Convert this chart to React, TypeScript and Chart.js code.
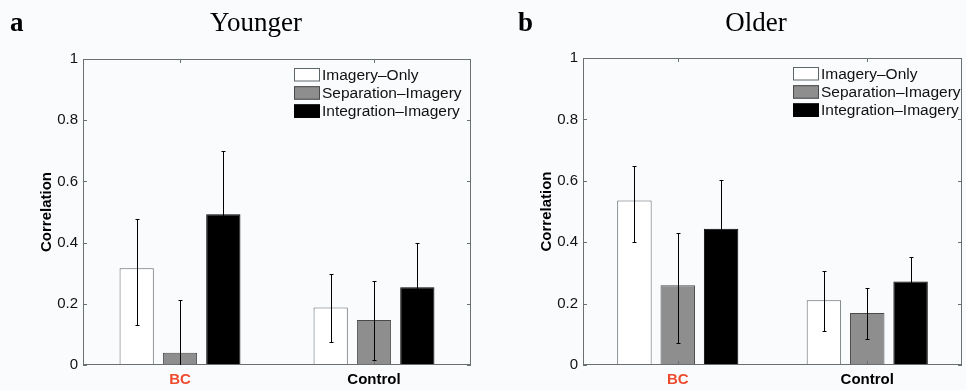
import React, { useEffect, useRef } from 'react';
import { Chart, registerables } from 'chart.js';

Chart.register(...registerables);

// ---- data ----
const groups = ['BC', 'Control'];
const seriesNames = ['Imagery–Only', 'Separation–Imagery', 'Integration–Imagery'];
const yTicks = [0, 0.2, 0.4, 0.6, 0.8, 1];
const yTickLabels = ['0', '0.2', '0.4', '0.6', '0.8', '1'];

// Younger (panel a)
const youngerImagery = [0.316, 0.188];
const youngerSeparation = [0.040, 0.147];
const youngerIntegration = [0.493, 0.254];
const youngerImageryUpper = [0.477, 0.298];
const youngerImageryLower = [0.130, 0.074];
const youngerSeparationUpper = [0.213, 0.273];
const youngerSeparationLower = [-0.133, 0.015];
const youngerIntegrationUpper = [0.698, 0.398];
const youngerIntegrationLower = [0.288, 0.110];

// Older (panel b)
const olderImagery = [0.536, 0.211];
const olderSeparation = [0.260, 0.169];
const olderIntegration = [0.444, 0.272];
const olderImageryUpper = [0.647, 0.307];
const olderImageryLower = [0.400, 0.112];
const olderSeparationUpper = [0.431, 0.250];
const olderSeparationLower = [0.071, 0.084];
const olderIntegrationUpper = [0.601, 0.352];
const olderIntegrationLower = [0.287, 0.192];

const fills = ['#ffffff', '#8e8e8e', '#000000'];
const borders = ['#5d6668', '#4a4a4a', '#000000'];
const axisColor = '#6a7072';
const errColor = '#000000';
const sans = '"Liberation Sans", Arial, Helvetica, sans-serif';
const serif = '"Liberation Serif", "Times New Roman", serif';

type PanelCfg = {
  letter: string;
  title: string;
  letterX: number;
  titleX: number;
  padLeft: number;
  padRight: number;
  padTop: number;
  catPct: number;
  barPct: number;
  legendFromRight: number;
  values: number[][];
  upper: number[][];
  lower: number[][];
};

const panels: PanelCfg[] = [
  {
    letter: 'a', title: 'Younger', letterX: 10, titleX: 256, padLeft: 0, padRight: 12, padTop: 59,
    catPct: 0.67, barPct: 0.79, legendFromRight: 177,
    values: [youngerImagery, youngerSeparation, youngerIntegration],
    upper: [youngerImageryUpper, youngerSeparationUpper, youngerIntegrationUpper],
    lower: [youngerImageryLower, youngerSeparationLower, youngerIntegrationLower],
  },
  {
    letter: 'b', title: 'Older', letterX: 35, titleX: 273, padLeft: 17, padRight: 4, padTop: 58,
    catPct: 0.686, barPct: 0.795, legendFromRight: 169,
    values: [olderImagery, olderSeparation, olderIntegration],
    upper: [olderImageryUpper, olderSeparationUpper, olderIntegrationUpper],
    lower: [olderImageryLower, olderSeparationLower, olderIntegrationLower],
  },
];

function Panel({ cfg }: { cfg: PanelCfg }) {
  const ref = useRef<HTMLCanvasElement>(null);
  useEffect(() => {
    const canvas = ref.current!;
    const decor = {
      id: 'decor',
      afterDatasetsDraw(chart: any) {
        const { ctx, chartArea: a, scales } = chart;
        const x = scales.x;
        const y = scales.y;
        ctx.save();
        // box
        ctx.strokeStyle = axisColor;
        ctx.lineWidth = 1;
        ctx.strokeRect(a.left + 0.5, a.top + 0.5, a.right - a.left - 1, a.bottom - a.top - 1);
        // inward ticks
        ctx.beginPath();
        yTicks.forEach((v) => {
          const py = Math.round(y.getPixelForValue(v)) + 0.5;
          ctx.moveTo(a.left, py); ctx.lineTo(a.left + 4, py);
          ctx.moveTo(a.right, py); ctx.lineTo(a.right - 4, py);
        });
        groups.forEach((_, i) => {
          const px = Math.round(x.getPixelForValue(i)) + 0.5;
          ctx.moveTo(px, a.top); ctx.lineTo(px, a.top + 4);
          ctx.moveTo(px, a.bottom); ctx.lineTo(px, a.bottom - 4);
        });
        ctx.stroke();
        // error bars
        ctx.beginPath();
        ctx.rect(a.left, a.top, a.right - a.left, a.bottom - a.top);
        ctx.clip();
        ctx.strokeStyle = errColor;
        ctx.beginPath();
        cfg.values.forEach((_, di) => {
          const meta = chart.getDatasetMeta(di);
          meta.data.forEach((bar: any, j: number) => {
            const bx = Math.round(bar.x) + 0.5;
            const yu = Math.round(y.getPixelForValue(cfg.upper[di][j])) + 0.5;
            const yl = Math.round(y.getPixelForValue(cfg.lower[di][j])) + 0.5;
            ctx.moveTo(bx, yu); ctx.lineTo(bx, yl);
            ctx.moveTo(bx - 2, yu); ctx.lineTo(bx + 2, yu);
            ctx.moveTo(bx - 2, yl); ctx.lineTo(bx + 2, yl);
          });
        });
        ctx.stroke();
        ctx.restore();
      },
      afterDraw(chart: any) {
        const { ctx, chartArea: a } = chart;
        ctx.save();
        // panel letter and title
        ctx.fillStyle = '#000';
        ctx.textBaseline = 'alphabetic';
        ctx.textAlign = 'left';
        ctx.font = `bold 27px ${serif}`;
        ctx.fillText(cfg.letter, cfg.letterX, 31);
        ctx.textAlign = 'center';
        ctx.font = `27px ${serif}`;
        ctx.fillText(cfg.title, cfg.titleX, 31);
        // legend
        const lx = a.right - cfg.legendFromRight;
        const ly = a.top + 9;
        ctx.font = `15.5px ${sans}`;
        ctx.textAlign = 'left';
        ctx.textBaseline = 'middle';
        chart.data.datasets.forEach((ds: any, i: number) => {
          const top = ly + i * 18.2;
          ctx.fillStyle = ds.backgroundColor;
          ctx.fillRect(lx, top, 26, 13.5);
          ctx.strokeStyle = ds.borderColor;
          ctx.lineWidth = 1;
          ctx.strokeRect(lx + 0.5, top + 0.5, 25, 12.5);
          ctx.fillStyle = '#111';
          ctx.fillText(ds.label, lx + 28, top + 7.5);
        });
        ctx.restore();
      },
    };

    const chart = new Chart(canvas, {
      type: 'bar',
      data: {
        labels: groups,
        datasets: seriesNames.map((name, i) => ({
          label: name,
          data: cfg.values[i],
          backgroundColor: fills[i],
          borderColor: borders[i],
          borderWidth: 1,
          categoryPercentage: cfg.catPct,
          barPercentage: cfg.barPct,
        })),
      },
      options: {
        responsive: false,
        animation: false,
        devicePixelRatio: 1,
        layout: { padding: { top: cfg.padTop, right: cfg.padRight, bottom: 0, left: cfg.padLeft } },
        plugins: {
          legend: { display: false },
          tooltip: { enabled: false },
          title: { display: false },
        },
        scales: {
          x: {
            type: 'category',
            offset: true,
            grid: { display: false, drawTicks: false },
            border: { display: false },
            ticks: {
              padding: 6,
              color: (c: any) => (c.index === 0 ? '#ee4b2e' : '#000'),
              font: { family: sans, size: 15, weight: 'bold' },
            },
            afterFit: (s: any) => { s.height = 25; },
          },
          y: {
            min: 0,
            max: 1,
            afterBuildTicks: (s: any) => { s.ticks = yTicks.map((v) => ({ value: v })); },
            grid: { display: false, drawTicks: false },
            border: { display: false },
            ticks: {
              padding: 5,
              color: '#111',
              font: { family: sans, size: 15 },
              callback: (_v: any, i: number) => yTickLabels[i],
            },
            title: {
              display: true,
              text: 'Correlation',
              color: '#000',
              font: { family: sans, size: 15, weight: 'bold' },
              padding: { top: 38, bottom: 0 },
            },
            afterFit: (s: any) => { s.width = 83; },
          },
        },
      } as any,
      plugins: [decor],
    });
    return () => chart.destroy();
  }, []);
  return <canvas ref={ref} width={483} height={390} style={{ display: 'block' }} />;
}

export default function App() {
  return (
    <div
      style={{
        position: 'absolute',
        left: 0,
        top: 0,
        width: 966,
        height: 390,
        display: 'flex',
        background: '#fafbfd',
      }}
    >
      {panels.map((p) => (
        <Panel key={p.letter} cfg={p} />
      ))}
    </div>
  );
}
